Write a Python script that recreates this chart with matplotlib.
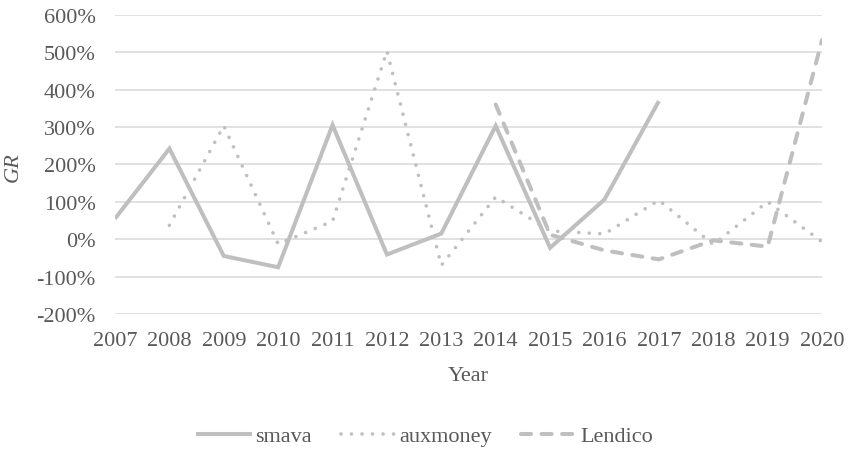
import numpy as np
import matplotlib
matplotlib.use("Agg")
import matplotlib.pyplot as plt
from matplotlib.ticker import FuncFormatter

years = list(range(2007, 2021))
smava = [55, 242, -45, -75, 305, -41, 15, 303, -23, 106, 369, None, None, None]
auxmoney = [None, 37, 303, -13, 48, 503, -70, 113, 22, 14, 104, -14, 100, -7]
lendico = [None, None, None, None, None, None, None, 360, 12, -30, -54, -3, -20, 532]
series_names = ["smava", "auxmoney", "Lendico"]
y_ticks = [-200, -100, 0, 100, 200, 300, 400, 500, 600]

def arr(v):
    return np.array([np.nan if x is None else x for x in v], dtype=float)

plt.rcParams['font.family'] = ['Liberation Serif', 'DejaVu Serif']
txt = '#595959'
lc = '#BFBFBF'
fs = 16

W, H = 849, 452
fig = plt.figure(figsize=(W / 100, H / 100), dpi=100)
left, right, top, bottom = 115, 822, 15.7, 315
ax = fig.add_axes([left / W, 1 - bottom / H, (right - left) / W, (bottom - top) / H])

ax.set_xlim(years[0], years[-1])
ax.set_ylim(y_ticks[0], y_ticks[-1])
ax.set_yticks(y_ticks)
ax.yaxis.set_major_formatter(FuncFormatter(lambda v, p: f"{int(v)}%"))
ax.set_xticks(years)
ax.set_xticklabels([str(y) for y in years])
ax.grid(axis='y', color='#D9D9D9', linewidth=1.1)
ax.set_axisbelow(True)
for s in ax.spines.values():
    s.set_visible(False)
ax.tick_params(axis='both', length=0, labelsize=fs, labelcolor=txt)
ax.tick_params(axis='y', pad=14)
ax.tick_params(axis='x', pad=12)

ax.plot(years, arr(smava), color=lc, lw=2.9, solid_capstyle='butt',
        solid_joinstyle='miter', label=series_names[0])
ax.plot(years, arr(auxmoney), color=lc, lw=2.6, linestyle=(0, (0.01, 2.9)),
        dash_capstyle='round', label=series_names[1])
ax.plot(years, arr(lendico), color=lc, lw=2.9, linestyle=(0, (2.5, 2.6)),
        dash_capstyle='round', label=series_names[2])

fig.text(13 / W, 1 - 167 / H, "GR", rotation=90, style='italic', fontsize=fs,
         color=txt, ha='center', va='center')
fig.text((left + right) / 2 / W, 1 - 377 / H, "Year", fontsize=fs, color=txt,
         ha='center', va='center')

leg = fig.legend(loc='center', bbox_to_anchor=(0.5, 1 - 437 / H), ncol=3,
                 frameon=False, fontsize=fs, handlelength=2.5, handletextpad=0.15,
                 columnspacing=1.3, labelcolor=txt)

fig.savefig("out.png", dpi=100, facecolor='white')
